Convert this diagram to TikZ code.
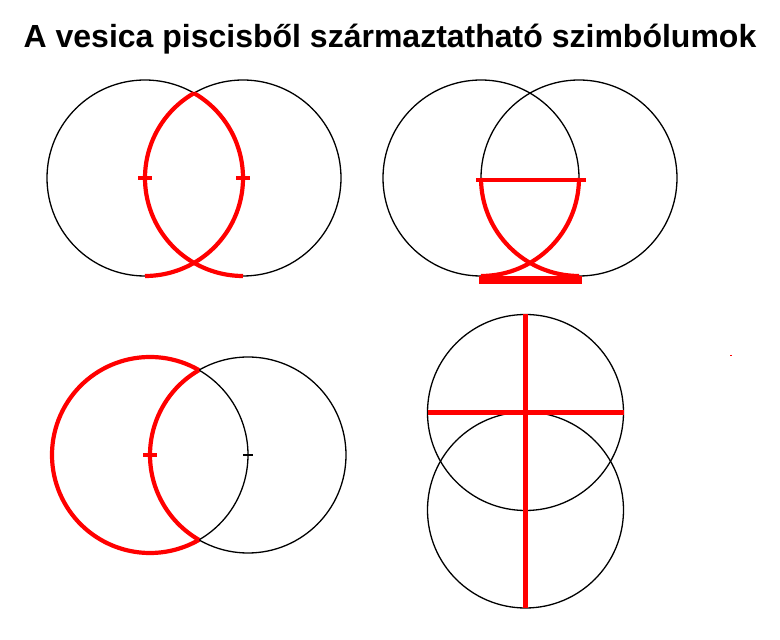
\documentclass[tikz,border=0pt]{standalone}
\usepackage{fontspec}
\setmainfont{Liberation Sans}
\usepackage{tikz}
\usetikzlibrary{positioning, calc}

\begin{document}
\begin{tikzpicture}[
    x=1pt, y=1pt,
    circ/.style={draw=black, line width=1.3pt},
    sym/.style={draw=red, line width=4.2pt},
    bar/.style={draw=red, line width=8pt},
    tick/.style={draw=red, line width=4pt},
    btick/.style={draw=black, line width=1.3pt}
  ]
  \useasboundingbox (0,0) rectangle (780,640);

  \node[font=\bfseries\fontsize{32}{36}\selectfont] (title) at (390,601) {A vesica piscisből származtatható szimbólumok};

  % fish
  \coordinate (a0) at (145,462);
  \coordinate (a1) at (243,462);
  \draw[circ] (a0) circle (98);
  \draw[circ] (a1) circle (98);
  \draw[sym] ($(a1)+(120:98)$) arc[start angle=120, end angle=270, radius=98];
  \draw[sym] ($(a0)+(60:98)$) arc[start angle=60, end angle=-90, radius=98];
  \draw[tick] ($(a0)+(-7,0)$) -- ($(a0)+(7,0)$);
  \draw[tick] ($(a1)+(-7,0)$) -- ($(a1)+(7,0)$);

  % chalice
  \coordinate (b0) at (481,462);
  \coordinate (b1) at (579,462);
  \draw[circ] (b0) circle (98);
  \draw[circ] (b1) circle (98);
  \draw[sym] ($(b0)+(-5,-2)$) -- ($(b1)+(7,-2)$);
  \draw[sym] ($(b1)+(180:98)$) arc[start angle=180, end angle=270, radius=98];
  \draw[sym] ($(b0)+(0:98)$) arc[start angle=0, end angle=-90, radius=98];
  \draw[bar] ($(b0)+(-2,-102.5)$) -- ($(b1)+(3,-102.5)$);

  % moon
  \coordinate (c0) at (150,185);
  \coordinate (c1) at (248,185);
  \draw[circ] (c1) circle (98);
  \draw[circ] ($(c0)+(-60:98)$) arc[start angle=-60, end angle=60, radius=98];
  \draw[sym] ($(c0)+(60:98)$) arc[start angle=60, end angle=300, radius=98];
  \draw[sym] ($(c1)+(120:98)$) arc[start angle=120, end angle=240, radius=98];
  \draw[tick] ($(c0)+(-7,0)$) -- ($(c0)+(7,0)$);
  \draw[btick] ($(c1)+(-5,0)$) -- ($(c1)+(5,0)$);

  % cross
  \coordinate (d0) at (525.5,227.5);
  \coordinate (d1) at (525.5,130);
  \draw[circ] (d0) circle (98);
  \draw[circ] (d1) circle (98);
  \draw[sym] ($(d0)+(0,98)$) -- ($(d1)+(0,-98)$);
  \draw[sym] ($(d0)+(-98,0)$) -- ($(d0)+(98,0)$);

  \fill[red] (730,283.5) rectangle (731.5,285);
\end{tikzpicture}
\end{document}
